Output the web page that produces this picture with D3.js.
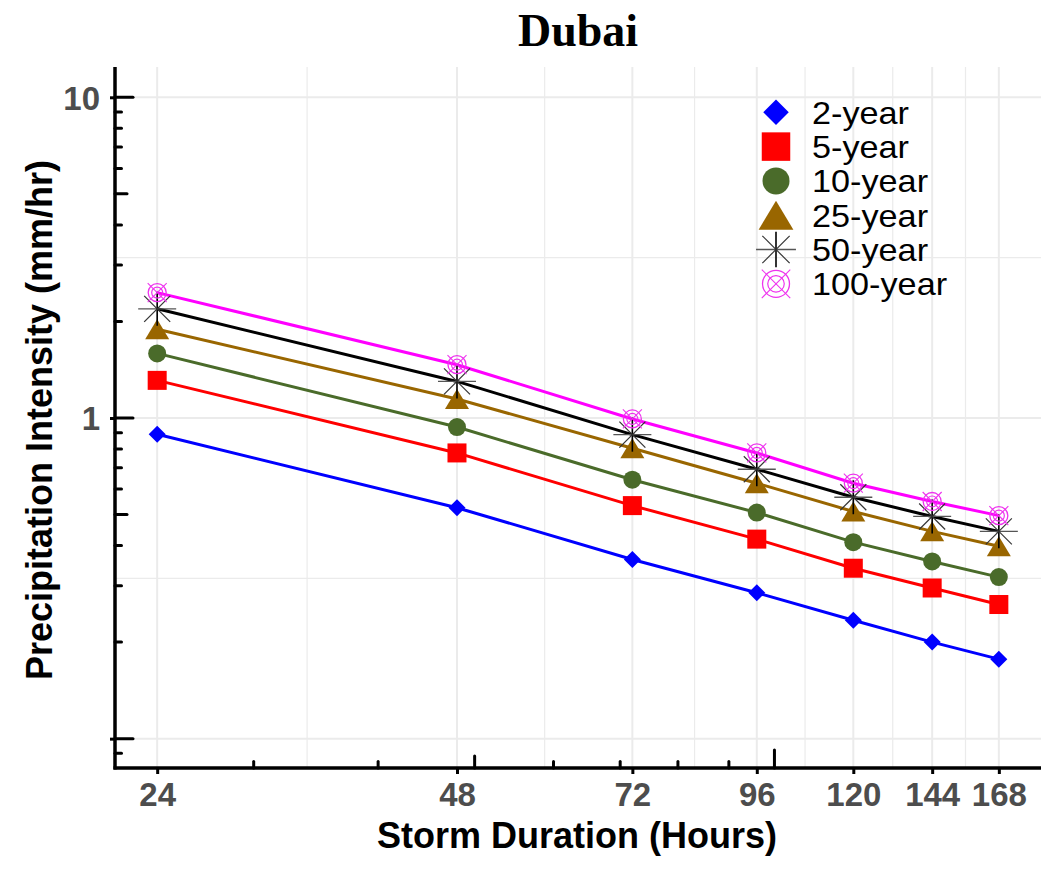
<!DOCTYPE html>
<html><head><meta charset="utf-8">
<script src="https://cdn.jsdelivr.net/npm/d3@7"></script>
<style>body{margin:0;background:#fff}</style>
</head><body>
<svg id="chart" width="1060" height="869"></svg>
<script>
// ---- data ----
const durations = [24, 48, 72, 96, 120, 144, 168];
const xTickLabels = ["24", "48", "72", "96", "120", "144", "168"];
const yTickValues = [0.1, 1, 10];
const yTickLabels = ["", "1", "10"];
const seriesNames = ["2-year", "5-year", "10-year", "25-year", "50-year", "100-year"];
const y2yr   = [0.89, 0.525, 0.362, 0.285, 0.234, 0.200, 0.177];
const y5yr   = [1.31, 0.778, 0.533, 0.419, 0.340, 0.295, 0.262];
const y10yr  = [1.59, 0.937, 0.642, 0.507, 0.410, 0.357, 0.319];
const y25yr  = [1.89, 1.146, 0.805, 0.626, 0.511, 0.443, 0.398];
const y50yr  = [2.19, 1.30, 0.887, 0.692, 0.566, 0.493, 0.443];
const y100yr = [2.46, 1.466, 0.993, 0.778, 0.626, 0.549, 0.496];
const seriesValues = [y2yr, y5yr, y10yr, y25yr, y50yr, y100yr];
const seriesColors = ["#0000FF", "#FF0000", "#4A6B2A", "#996600", "#000000", "#FF00FF"];
const seriesShapes = ["diamond", "square", "circle", "triangle", "asterisk", "target"];

// ---- layout ----
const L = 115, R = 1041, T = 67, B = 768;
const svg = d3.select("#chart");
const x = d3.scaleLog().domain([21.77, 185.2]).range([L, R]);
const y = d3.scaleLog().domain([0.081, 12.43]).range([B, T]);

// grid
const gridCol = "#EBEBEB";
const xMinor = d3.pairs(durations).map(([a, b]) => Math.sqrt(a * b));
const yMinor = d3.pairs(yTickValues).map(([a, b]) => Math.sqrt(a * b));
const grid = svg.append("g");
grid.selectAll(".gxm").data(xMinor).join("line")
  .attr("x1", d => x(d)).attr("x2", d => x(d)).attr("y1", T).attr("y2", B)
  .attr("stroke", gridCol).attr("stroke-width", 1.2);
grid.selectAll(".gym").data(yMinor).join("line")
  .attr("y1", d => y(d)).attr("y2", d => y(d)).attr("x1", L).attr("x2", R)
  .attr("stroke", gridCol).attr("stroke-width", 1.2);
grid.selectAll(".gx").data(durations).join("line")
  .attr("x1", d => x(d)).attr("x2", d => x(d)).attr("y1", T).attr("y2", B)
  .attr("stroke", gridCol).attr("stroke-width", 2);
grid.selectAll(".gy").data(yTickValues).join("line")
  .attr("y1", d => y(d)).attr("y2", d => y(d)).attr("x1", L).attr("x2", R)
  .attr("stroke", gridCol).attr("stroke-width", 2);

// lines
const line = d3.line().x(d => x(d[0])).y(d => y(d[1]));
svg.append("g").selectAll("path").data(seriesValues).join("path")
  .attr("d", vals => line(durations.map((d, i) => [d, vals[i]])))
  .attr("fill", "none").attr("stroke", (d, i) => seriesColors[i])
  .attr("stroke-width", 3);

// marker drawing
function drawMarker(g, shape, color, s) {
  if (shape === "diamond") {
    const h = 8.5 * s;
    g.append("path").attr("d", `M0,${-h}L${h},0L0,${h}L${-h},0Z`).attr("fill", color);
  } else if (shape === "square") {
    const h = 9.5 * s;
    g.append("rect").attr("x", -h).attr("y", -h).attr("width", 2 * h).attr("height", 2 * h).attr("fill", color);
  } else if (shape === "circle") {
    g.append("circle").attr("r", 9 * s).attr("fill", color);
  } else if (shape === "triangle") {
    const w = 12 * s, h = 10 * s;
    g.append("path").attr("d", `M0,${-h}L${w},${h}L${-w},${h}Z`).attr("fill", color);
  } else if (shape === "asterisk") {
    const hx = 19 * s, hy = 17 * s, dg = 13 * s;
    g.append("line").attr("x1", -hx).attr("x2", hx).attr("y1", 0).attr("y2", 0).attr("stroke", "#555").attr("stroke-width", 1.3);
    g.append("line").attr("y1", -hy).attr("y2", hy).attr("x1", 0).attr("x2", 0).attr("stroke", color).attr("stroke-width", 1.6);
    g.append("line").attr("x1", -dg).attr("x2", dg).attr("y1", -dg).attr("y2", dg).attr("stroke", "#333").attr("stroke-width", 1.2);
    g.append("line").attr("x1", -dg).attr("x2", dg).attr("y1", dg).attr("y2", -dg).attr("stroke", "#333").attr("stroke-width", 1.2);
  } else if (shape === "target") {
    const c = "#EE33EE";
    g.append("circle").attr("r", 9 * s).attr("fill", "none").attr("stroke", c).attr("stroke-width", 1.3);
    g.append("circle").attr("r", 5.5 * s).attr("fill", "none").attr("stroke", c).attr("stroke-width", 1.2);
    const d = 9.5 * s;
    g.append("line").attr("x1", -d).attr("x2", d).attr("y1", -d).attr("y2", d).attr("stroke", c).attr("stroke-width", 1.1);
    g.append("line").attr("x1", -d).attr("x2", d).attr("y1", d).attr("y2", -d).attr("stroke", c).attr("stroke-width", 1.1);
  }
}

// points
seriesValues.forEach((vals, si) => {
  const pg = svg.append("g");
  durations.forEach((d, i) => {
    const g = pg.append("g").attr("transform", `translate(${x(d)},${y(vals[i])})`);
    drawMarker(g, seriesShapes[si], seriesColors[si], 1);
  });
});

// axes lines
svg.append("line").attr("x1", L).attr("x2", L).attr("y1", T).attr("y2", B + 1.5)
  .attr("stroke", "#000").attr("stroke-width", 3.5);
svg.append("line").attr("x1", L - 1.5).attr("x2", R).attr("y1", B).attr("y2", B)
  .attr("stroke", "#000").attr("stroke-width", 3.5);

// log ticks (inside)
const xLogTicks = [30, 40, 50, 60, 70, 80, 90, 100];
const tickLen = v => {
  const m = v / Math.pow(10, Math.floor(Math.log10(v) + 1e-9));
  const k = Math.round(m);
  return k === 1 ? 18 : (k === 5 ? 12 : 6.5);
};
svg.append("g").selectAll("line").data(xLogTicks).join("line")
  .attr("x1", d => x(d)).attr("x2", d => x(d)).attr("y1", B).attr("y2", d => B - tickLen(d))
  .attr("stroke", "#000").attr("stroke-width", 3).attr("stroke-linecap", "round");
const yLogTicks = [];
[0.01, 0.1, 1, 10].forEach(dec => { for (let k = 1; k <= 9; k++) { const v = dec * k; if (v >= 0.082 && v <= 12.4) yLogTicks.push(+v.toPrecision(3)); } });
svg.append("g").selectAll("line").data(yLogTicks).join("line")
  .attr("y1", d => y(d)).attr("y2", d => y(d)).attr("x1", L).attr("x2", d => L + tickLen(d))
  .attr("stroke", "#000").attr("stroke-width", 3).attr("stroke-linecap", "round");

// major axis ticks & labels
const xAxis = d3.axisBottom(x).tickValues(durations).tickFormat((d, i) => xTickLabels[i])
  .tickSizeInner(6).tickSizeOuter(0).tickPadding(8);
const gx = svg.append("g").attr("transform", `translate(0,${B})`).call(xAxis);
gx.select(".domain").remove();
gx.selectAll(".tick line").attr("stroke", "#000").attr("stroke-width", 3);
gx.selectAll(".tick text").attr("fill", "#4D4D4D").style("font-family", "'Liberation Sans', Arial, sans-serif")
  .style("font-size", "33px").style("font-weight", "bold").attr("dy", "0.72em");

const yAxis = d3.axisLeft(y).tickValues(yTickValues).tickFormat((d, i) => yTickLabels[i])
  .tickSizeInner(5).tickSizeOuter(0).tickPadding(10);
const gy = svg.append("g").attr("transform", `translate(${L},0)`).call(yAxis);
gy.select(".domain").remove();
gy.selectAll(".tick line").attr("stroke", "#000").attr("stroke-width", 3);
gy.selectAll(".tick text").attr("fill", "#4D4D4D").style("font-family", "'Liberation Sans', Arial, sans-serif")
  .style("font-size", "33px").style("font-weight", "bold").attr("dy", "0.36em");

// titles
svg.append("text").attr("x", (L + R) / 2).attr("y", 46).attr("text-anchor", "middle")
  .style("font-family", "'Liberation Serif', 'DejaVu Serif', serif").style("font-weight", "bold")
  .style("font-size", "46px").text("Dubai");
svg.append("text").attr("x", (L + R) / 2 - 1).attr("y", 848).attr("text-anchor", "middle")
  .style("font-family", "'Liberation Sans', Arial, sans-serif").style("font-weight", "bold")
  .style("font-size", "36px").text("Storm Duration (Hours)");
svg.append("text").attr("transform", `translate(52,${(155 + 685) / 2}) rotate(-90)`).attr("text-anchor", "middle")
  .style("font-family", "'Liberation Sans', Arial, sans-serif").style("font-weight", "bold")
  .style("font-size", "36px").text("Precipitation Intensity (mm/hr)");

// legend
const leg = svg.append("g");
seriesNames.forEach((name, i) => {
  const cy = 112.3 + i * 34.3;
  const g = leg.append("g").attr("transform", `translate(776,${cy})`);
  drawMarker(g, seriesShapes[i], seriesColors[i], i === 3 ? 1.45 : (i === 4 ? 1.05 : 1.5));
  leg.append("text").attr("transform", `translate(812,${cy + 11.5}) scale(1.07,1)`)
    .style("font-family", "'Liberation Sans', Arial, sans-serif").style("font-size", "32px")
    .attr("fill", "#000").text(name);
});
</script>
</body></html>
